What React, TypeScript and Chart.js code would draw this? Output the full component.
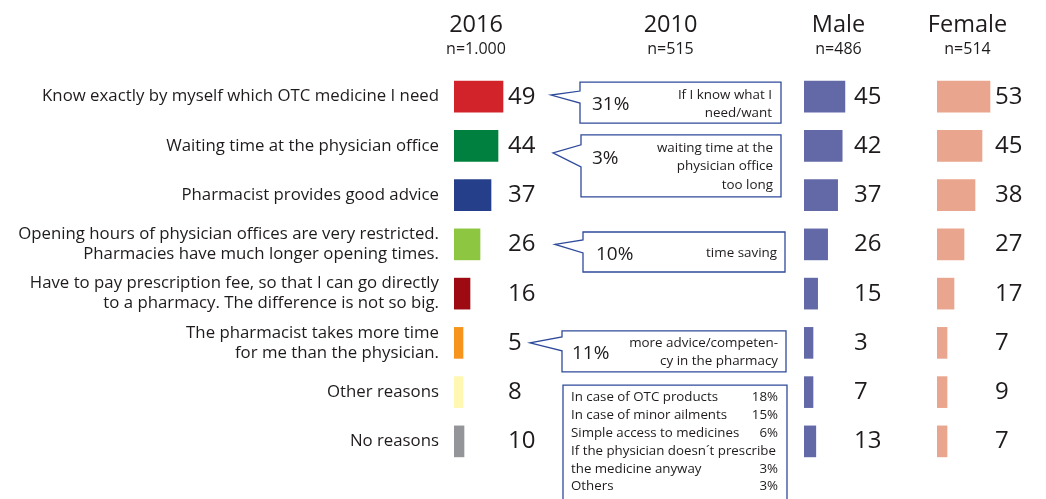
import React, { useEffect, useRef } from "react";
import { Chart, registerables } from "chart.js";

Chart.register(...registerables);

// ---------- data ----------
const categories: string[][] = [
  ["Know exactly by myself which OTC medicine I need"],
  ["Waiting time at the physician office"],
  ["Pharmacist provides good advice"],
  ["Opening hours of physician offices are very restricted.", "Pharmacies have much longer opening times."],
  ["Have to pay prescription fee, so that I can go directly", "to a pharmacy. The difference is not so big."],
  ["The pharmacist takes more time", "for me than the physician."],
  ["Other reasons"],
  ["No reasons"],
];
const values2016 = [49, 44, 37, 26, 16, 5, 8, 10];
const valuesMale = [45, 42, 37, 26, 15, 3, 7, 13];
const valuesFemale = [53, 45, 38, 27, 17, 7, 9, 7];

const headerTitles = ["2016", "2010", "Male", "Female"];
const headerCounts = ["n=1.000", "n=515", "n=486", "n=514"];

const callout2010Rows = [0, 1, 3, 5];
const callout2010Pcts = ["31%", "3%", "10%", "11%"];
const callout2010Texts = [
  ["If I know what I", "need/want"],
  ["waiting time at the", "physician office", "too long"],
  ["time saving"],
  ["more advice/competen-", "cy in the pharmacy"],
];
const list2010Row = 6;
const list2010Labels = [
  "In case of OTC products",
  "In case of minor ailments",
  "Simple access to medicines",
  "If the physician doesn\u00b4t prescribe",
  "the medicine anyway",
  "Others",
];
const list2010Values = ["18%", "15%", "6%", "", "3%", "3%"];

// ---------- styles / layout ----------
const FONT = "'Open Sans', sans-serif";
const TEXT = "#1f1b1c";
const NAVY = "#2e4a9a";
const colors2016 = ["#d2232a", "#00803e", "#263f8a", "#8dc641", "#9d0a12", "#f7941e", "#fff7b2", "#939598"];
const colorMale = "#6369a7";
const colorFemale = "#e9a58d";

const W = 1046;
const H = 499;
const PAD_TOP = 72;
const PAD_BOTTOM = 33;
const headerX = [476, 670.5, 838.5, 967.5];

const calloutGeom = [
  { left: 580, right: 781, top: -14.6, bottom: 26.4, tipX: 551, tipDy: -1.6, aTop: -5.6, aBot: 6.4, pctX: 592, pctDy: 6.4, textRight: 772, textDy: -1.6, lineH: 18 },
  { left: 581, right: 781, top: -11, bottom: 51, tipX: 553, tipDy: 7, aTop: -1, aBot: 21, pctX: 592, pctDy: 11, textRight: 773, textDy: 2, lineH: 18.5 },
  { left: 583, right: 785, top: -12.4, bottom: 27.6, tipX: 555, tipDy: 0, aTop: -4.4, aBot: 8.6, pctX: 596, pctDy: 8.6, textRight: 777, textDy: 8.6, lineH: 18 },
  { left: 562, right: 786, top: -12, bottom: 29, tipX: 530, tipDy: 0, aTop: -6, aBot: 8, pctX: 572, pctDy: 9, textRight: 778, textDy: 0, lineH: 18 },
];
const listGeom = { left: 563, right: 787, top: -7, textLeft: 571, textRight: 778, firstDy: 5, lineH: 17.9 };

// ---------- plugins ----------
const valueLabelPlugin = {
  id: "valueLabels",
  afterDatasetsDraw(chart: any, _args: any, opts: any) {
    const ctx = chart.ctx;
    const meta = chart.getDatasetMeta(0);
    const ds = chart.data.datasets[0];
    ctx.save();
    ctx.font = `24px ${FONT}`;
    ctx.fillStyle = TEXT;
    ctx.textAlign = "left";
    ctx.textBaseline = "alphabetic";
    meta.data.forEach((bar: any, i: number) => {
      ctx.fillText(String(ds.data[i]), chart.chartArea.left + opts.offset, bar.y + 6.9);
    });
    ctx.restore();
  },
};

const decorPlugin = {
  id: "decor",
  afterDraw(chart: any) {
    const ctx = chart.ctx;
    const y = chart.scales.y;
    ctx.save();
    // headers
    ctx.fillStyle = TEXT;
    ctx.textAlign = "center";
    ctx.textBaseline = "alphabetic";
    headerTitles.forEach((t, i) => {
      ctx.font = `23.5px ${FONT}`;
      ctx.fillText(t, headerX[i], 32);
      ctx.font = `16px ${FONT}`;
      ctx.fillText(headerCounts[i], headerX[i], 54);
    });

    // callouts (2010)
    callout2010Rows.forEach((row, i) => {
      const g = calloutGeom[i];
      const rc = y.getPixelForValue(row);
      const top = rc + g.top;
      const bot = rc + g.bottom;
      ctx.beginPath();
      ctx.moveTo(g.left, top);
      ctx.lineTo(g.right, top);
      ctx.lineTo(g.right, bot);
      ctx.lineTo(g.left, bot);
      ctx.lineTo(g.left, rc + g.aBot);
      ctx.lineTo(g.tipX, rc + g.tipDy);
      ctx.lineTo(g.left, rc + g.aTop);
      ctx.closePath();
      ctx.fillStyle = "#ffffff";
      ctx.fill();
      ctx.strokeStyle = NAVY;
      ctx.lineWidth = 1.3;
      ctx.stroke();

      ctx.fillStyle = TEXT;
      ctx.textBaseline = "alphabetic";
      ctx.textAlign = "left";
      ctx.font = `19px ${FONT}`;
      ctx.fillText(callout2010Pcts[i], g.pctX, rc + g.pctDy + 6.8);
      ctx.textAlign = "right";
      ctx.textBaseline = "middle";
      ctx.font = `13.4px ${FONT}`;
      callout2010Texts[i].forEach((line, k) => {
        ctx.fillText(line, g.textRight, rc + g.textDy + k * g.lineH);
      });
    });

    // list box (2010)
    const rc = y.getPixelForValue(list2010Row);
    const top = rc + listGeom.top;
    ctx.beginPath();
    ctx.moveTo(listGeom.left, H + 3);
    ctx.lineTo(listGeom.left, top);
    ctx.lineTo(listGeom.right, top);
    ctx.lineTo(listGeom.right, H + 3);
    ctx.strokeStyle = NAVY;
    ctx.lineWidth = 1.3;
    ctx.stroke();
    ctx.fillStyle = TEXT;
    ctx.font = `13.3px ${FONT}`;
    ctx.textBaseline = "middle";
    list2010Labels.forEach((lab, k) => {
      const ly = rc + listGeom.firstDy + k * listGeom.lineH;
      ctx.textAlign = "left";
      ctx.fillText(lab, listGeom.textLeft, ly);
      ctx.textAlign = "right";
      ctx.fillText(list2010Values[k], listGeom.textRight, ly);
    });
    ctx.restore();
  },
};

function barConfig(values: number[], colors: any, max: number, minLen: number, labelOffset: number, withAxis: boolean, padRight: number) {
  return {
    type: "bar" as const,
    data: {
      labels: categories,
      datasets: [
        {
          data: values,
          backgroundColor: colors,
          barThickness: 31,
          minBarLength: minLen,
          borderWidth: 0,
        },
      ],
    },
    options: {
      indexAxis: "y" as const,
      responsive: false,
      animation: false as const,
      layout: { padding: { top: PAD_TOP, bottom: PAD_BOTTOM, left: 0, right: padRight } },
      plugins: {
        legend: { display: false },
        tooltip: { enabled: false },
        valueLabels: { offset: labelOffset },
      },
      scales: {
        x: { display: false, min: 0, max },
        y: withAxis
          ? {
              afterFit: (s: any) => {
                s.width = 454;
              },
              grid: { display: false, drawTicks: false },
              border: { display: false },
              ticks: {
                autoSkip: false,
                padding: 15,
                color: TEXT,
                font: { family: FONT, size: 16.8, lineHeight: 1.2 },
              },
            }
          : { display: false },
      },
    },
    plugins: withAxis ? [valueLabelPlugin, decorPlugin] : [valueLabelPlugin],
  };
}

export default function App() {
  const ref2016 = useRef<HTMLCanvasElement>(null);
  const refMale = useRef<HTMLCanvasElement>(null);
  const refFemale = useRef<HTMLCanvasElement>(null);

  useEffect(() => {
    const charts: Chart[] = [];
    charts.push(new Chart(ref2016.current!, barConfig(values2016, colors2016, 100, 9, 54, true, W - 554) as any));
    charts.push(new Chart(refMale.current!, barConfig(valuesMale, colorMale, 110, 9, 50, false, 0) as any));
    charts.push(new Chart(refFemale.current!, barConfig(valuesFemale, colorFemale, 100, 10, 58, false, 0) as any));
    return () => charts.forEach((c) => c.destroy());
  }, []);

  return (
    <div style={{ position: "fixed", left: 0, top: 0, width: W, height: H, background: "#fff" }}>
      <canvas ref={ref2016} width={W} height={H} style={{ position: "absolute", left: 0, top: 0 }} />
      <canvas ref={refMale} width={100} height={H} style={{ position: "absolute", left: 804, top: 0 }} />
      <canvas ref={refFemale} width={100} height={H} style={{ position: "absolute", left: 937, top: 0 }} />
    </div>
  );
}
